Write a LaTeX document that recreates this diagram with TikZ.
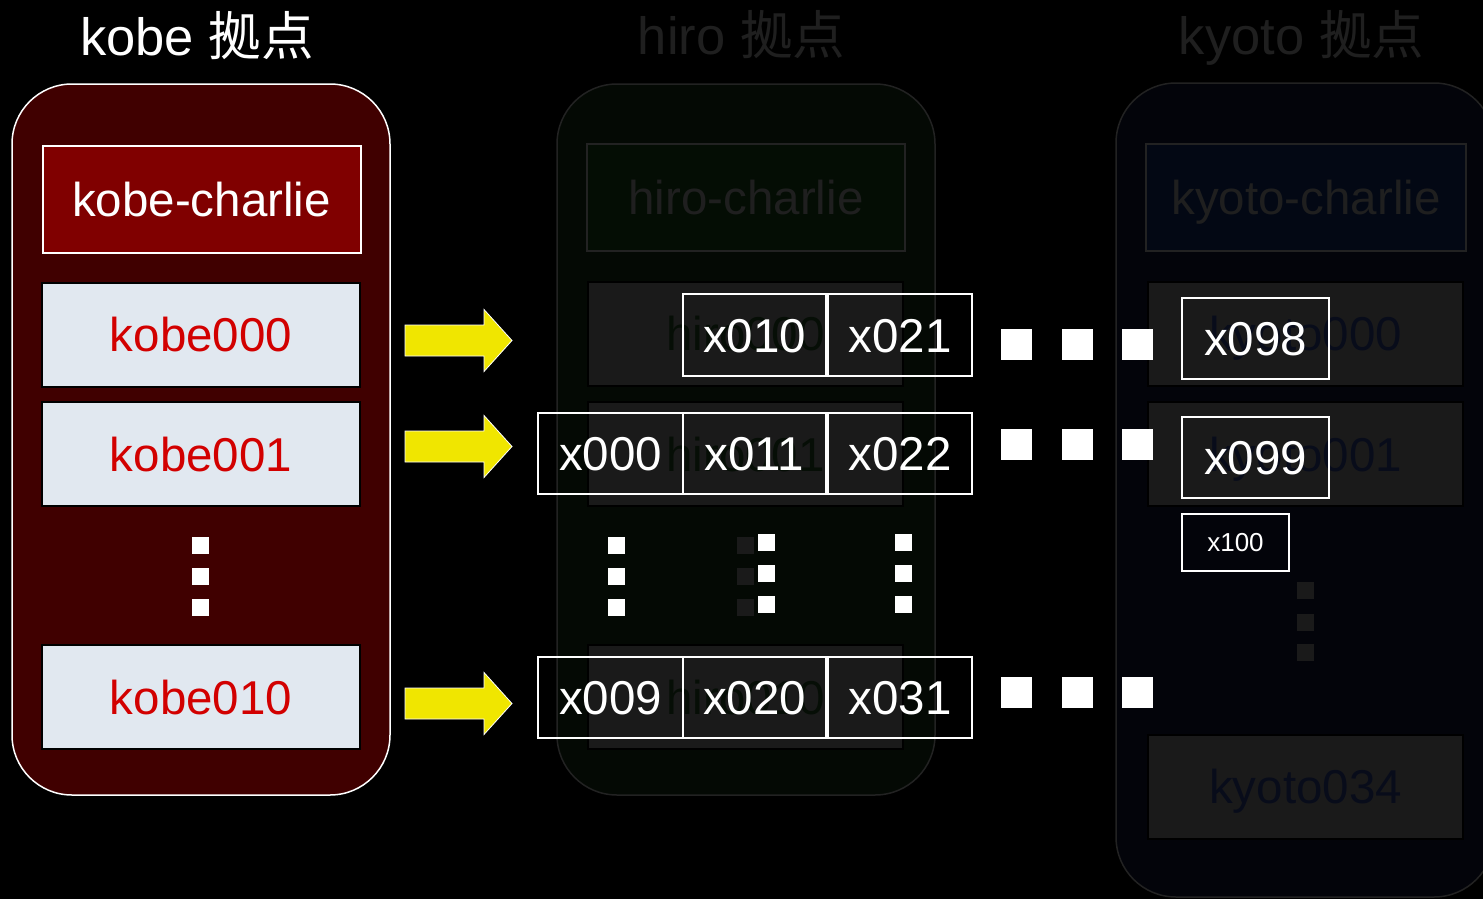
\documentclass[tikz,border=0pt]{standalone}
\usepackage{fontspec}
\setmainfont{Liberation Sans}
\newfontfamily\cjk{Noto Sans CJK JP}
\definecolor{kobepanel}{RGB}{64,0,0}
\definecolor{kobehead}{RGB}{128,0,0}
\definecolor{kobecell}{RGB}{225,232,240}
\definecolor{kobetext}{RGB}{210,0,0}
\definecolor{hiropanel}{RGB}{4,9,4}
\definecolor{hirohead}{RGB}{4,13,4}
\definecolor{hirotext}{RGB}{6,14,6}
\definecolor{kyotopanel}{RGB}{3,4,10}
\definecolor{kyotohead}{RGB}{3,8,20}
\definecolor{kyototext}{RGB}{8,12,26}
\definecolor{dimline}{RGB}{34,34,34}
\definecolor{dimtext}{RGB}{31,31,31}
\definecolor{dimcell}{RGB}{26,26,26}
\definecolor{arrowyellow}{RGB}{240,230,0}
\begin{document}
\begin{tikzpicture}[x=1pt,y=-1pt,
  big/.style={font=\fontsize{47.5pt}{57pt}\selectfont, text height=34pt, text depth=0pt, inner sep=0pt},
  small/.style={font=\fontsize{26pt}{31pt}\selectfont, text height=18.6pt, text depth=0pt, inner sep=0pt},
  sitetitle/.style={font=\fontsize{52.5pt}{60pt}\selectfont, anchor=base, inner sep=0pt},
  panel/.style={rounded corners=60pt, line width=1.5pt, inner sep=0pt, minimum width=378pt},
  headbox/.style={big, line width=2pt, minimum height=107pt},
  cellbox/.style={big, line width=2pt, minimum width=315pt, minimum height=104pt},
  xbox/.style={big, draw=white, line width=2pt, text=white},
  wdot/.style={fill=white, minimum size=17pt, inner sep=0pt},
  gdot/.style={fill=dimcell, minimum size=17pt, inner sep=0pt},
  bdot/.style={fill=white, minimum size=31pt, inner sep=0pt},
  yarrow/.style={fill=arrowyellow, draw=white, line width=0.8pt, line join=miter}
]
\clip (0,0) rectangle (1483,899);
\fill[black] (0,0) rectangle (1483,899);

% site titles
\node[sitetitle, text=white]   (tkobe)  at (197,56)  {kobe {\cjk 拠点}};
\node[sitetitle, text=dimtext] (thiro)  at (741.5,55) {hiro {\cjk 拠点}};
\node[sitetitle, text=dimtext] (tkyoto) at (1301.5,55) {kyoto {\cjk 拠点}};

% kobe site
\node[panel, draw=white, fill=kobepanel, minimum height=711pt] (kobe) at (201,439.5) {};
\node[headbox, draw=white, fill=kobehead, text=white, minimum width=318pt] (kobec) at (201.5,199) {kobe-charlie};
\node[cellbox, draw=black, fill=kobecell, text=kobetext, minimum width=318pt] (k000) at (201,334.5) {kobe000};
\node[cellbox, draw=black, fill=kobecell, text=kobetext, minimum width=318pt] (k001) at (201,454) {kobe001};
\node[cellbox, draw=black, fill=kobecell, text=kobetext, minimum width=318pt] (k010) at (201,697) {kobe010};
\foreach \y [count=\i] in {545,576.5,607.5}
  \node[wdot] (kdot\i) at (200.5,\y) {};

% hiro site
\node[panel, draw=dimline, fill=hiropanel, minimum height=711pt] (hiro) at (746,439.5) {};
\node[headbox, draw=dimline, fill=hirohead, text=dimtext, minimum width=318pt] (hiroc) at (746,197.5) {hiro-charlie};
\node[cellbox, draw=black, fill=dimcell, text=hirotext] (h000) at (745.5,333.5) {hiro000};
\node[cellbox, draw=black, fill=dimcell, text=hirotext] (h001) at (745.5,454) {hiro001};
\node[cellbox, draw=black, fill=dimcell, text=hirotext] (h010) at (745.5,697) {hiro010};
\foreach \y [count=\i] in {545,576.5,607.5}
  \node[gdot] (hdot\i) at (745.5,\y) {};

% kyoto site
\node[panel, draw=dimline, fill=kyotopanel, minimum height=814pt] (kyoto) at (1305,490) {};
\node[headbox, draw=dimline, fill=kyotohead, text=dimtext, minimum width=320pt] (kyotoc) at (1306,197.5) {kyoto-charlie};
\node[cellbox, draw=black, fill=dimcell, text=kyototext] (y000) at (1305.5,333.5) {kyoto000};
\node[cellbox, draw=black, fill=dimcell, text=kyototext] (y001) at (1305.5,454) {kyoto001};
\node[cellbox, draw=black, fill=dimcell, text=kyototext] (y034) at (1305.5,786.5) {kyoto034};
\foreach \y [count=\i] in {590,622,652}
  \node[gdot] (ydot\i) at (1305.5,\y) {};

% yellow block arrows
\foreach \y [count=\i] in {340.5,446.5,703.5} {
  \coordinate (arr\i) at (405,\y);
  \draw[yarrow] (arr\i) ++(0,-15.5) -- ++(79,0) -- ++(0,-15.5) -- ++(28,31)
    -- ++(-28,31) -- ++(0,-15.5) -- ++(-79,0) -- cycle;
}

% placed blocks, row by row
\node[xbox, minimum width=143pt, minimum height=82pt] (x010) at (754.5,335) {x010};
\node[xbox, minimum width=144pt, minimum height=82pt] (x021) at (900,335) {x021};
\node[xbox, minimum width=145pt, minimum height=81pt] (x000) at (610.5,453.5) {x000};
\node[xbox, minimum width=143pt, minimum height=81pt] (x011) at (754.5,453.5) {x011};
\node[xbox, minimum width=144pt, minimum height=81pt] (x022) at (900,453.5) {x022};
\node[xbox, minimum width=145pt, minimum height=81pt] (x009) at (610.5,697.5) {x009};
\node[xbox, minimum width=143pt, minimum height=81pt] (x020) at (754.5,697.5) {x020};
\node[xbox, minimum width=144pt, minimum height=81pt] (x031) at (900,697.5) {x031};
\node[xbox, minimum width=147pt, minimum height=81pt] (x098) at (1255.5,338.5) {x098};
\node[xbox, minimum width=147pt, minimum height=81pt] (x099) at (1255.5,457.5) {x099};
\node[xbox, small, minimum width=107pt, minimum height=57pt] (x100) at (1235.5,542.5) {x100};

% continuation marks
\foreach \y [count=\i] in {545,576.5,607.5} {
  \node[wdot] (ca\i) at (616.5,\y) {};
}
\foreach \y [count=\i] in {542,573.5,604.5} {
  \node[wdot] (cb\i) at (766.5,\y) {};
  \node[wdot] (cc\i) at (903.5,\y) {};
}
\foreach \y [count=\j] in {344.5,444.5,692.5}
  \foreach \x [count=\i] in {1016.5,1077.5,1137.5}
    \node[bdot] (row\j dot\i) at (\x,\y) {};
\end{tikzpicture}
\end{document}
